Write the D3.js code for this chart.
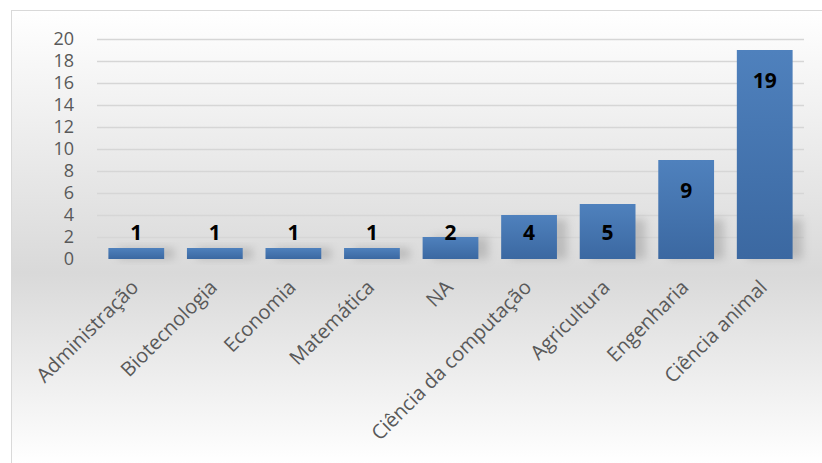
<!DOCTYPE html>
<html>
<head>
<meta charset="utf-8">
<script src="https://cdn.jsdelivr.net/npm/d3@7"></script>
<style>
  html, body { margin: 0; padding: 0; background: #ffffff; }
  svg { display: block; }
</style>
</head>
<body>
<svg id="chart" width="822" height="463"></svg>
<script>
const categories = ["Administração", "Biotecnologia", "Economia", "Matemática", "NA", "Ciência da computação", "Agricultura", "Engenharia", "Ciência animal"];
const values = [1, 1, 1, 1, 2, 4, 5, 9, 19];
const yTicks = [0, 2, 4, 6, 8, 10, 12, 14, 16, 18, 20];

const W = 822, H = 463;
const svg = d3.select("#chart");
const defs = svg.append("defs");

const bg = defs.append("linearGradient").attr("id", "bg").attr("x1", 0).attr("y1", 0).attr("x2", 0).attr("y2", 1);
bg.append("stop").attr("offset", "0").attr("stop-color", "#ffffff");
bg.append("stop").attr("offset", "0.58").attr("stop-color", "#d9d9d9");
bg.append("stop").attr("offset", "1").attr("stop-color", "#ffffff");

const barGrad = defs.append("linearGradient").attr("id", "barGrad").attr("x1", 0).attr("y1", 0).attr("x2", 0).attr("y2", 1);
barGrad.append("stop").attr("offset", "0").attr("stop-color", "#4f81bd");
barGrad.append("stop").attr("offset", "1").attr("stop-color", "#3b68a1");

const blur = defs.append("filter").attr("id", "blur").attr("x", "-50%").attr("y", "-50%").attr("width", "200%").attr("height", "200%");
blur.append("feGaussianBlur").attr("stdDeviation", 4);

svg.append("rect").attr("x", 11.5).attr("y", 10.5).attr("width", W - 11).attr("height", H - 10)
  .attr("fill", "url(#bg)").attr("stroke", "#d9d9d9").attr("stroke-width", 1);

const margin = { left: 97, right: 18, top: 39, bottom: 205 };
const x = d3.scaleBand().domain(categories).range([margin.left, W - margin.right]).paddingInner(0.29).paddingOuter(0.145);
const y = d3.scaleLinear().domain([0, 20]).range([H - margin.bottom + 1, margin.top]);

// gridlines
const yAxis = d3.axisLeft(y).tickValues(yTicks).tickSize(-(W - margin.right - margin.left)).tickPadding(23);
const gy = svg.append("g").attr("transform", `translate(${margin.left},0)`).call(yAxis);
gy.select(".domain").remove();
gy.selectAll(".tick line").attr("stroke", "#d6d6d6").attr("stroke-width", 1.5)
  .attr("opacity", d => d === 0 ? 0 : 1);
gy.selectAll(".tick text").attr("fill", "#595959").attr("font-family", "'Open Sans', sans-serif").attr("font-size", 18);

// bar shadows
svg.append("g").selectAll("rect").data(values).join("rect")
  .attr("x", (d, i) => x(categories[i]) + 10)
  .attr("y", d => Math.max(y(d), y(0) - 40))
  .attr("width", x.bandwidth())
  .attr("height", d => y(0) - Math.max(y(d), y(0) - 40))
  .attr("fill", "#8a8a8a").attr("opacity", 0.4).attr("filter", "url(#blur)");

// bars
svg.append("g").selectAll("rect").data(values).join("rect")
  .attr("x", (d, i) => x(categories[i]))
  .attr("y", d => y(d))
  .attr("width", x.bandwidth())
  .attr("height", d => y(0) - y(d))
  .attr("fill", "url(#barGrad)");

// value labels
svg.append("g").selectAll("text").data(values).join("text")
  .attr("x", (d, i) => x(categories[i]) + x.bandwidth() / 2)
  .attr("y", d => Math.min(y(d) + 30, y(0) - 27))
  .attr("dy", "0.36em")
  .attr("text-anchor", "middle")
  .attr("font-family", "'Open Sans', sans-serif").attr("font-weight", "bold").attr("font-size", 21)
  .attr("fill", "#000000")
  .text(d => d);

// category labels
const xAxis = d3.axisBottom(x).tickSize(0).tickPadding(0);
const gx = svg.append("g").attr("transform", `translate(0,${y(0)})`).call(xAxis);
gx.select(".domain").remove();
gx.selectAll(".tick text")
  .attr("fill", "#595959").attr("font-family", "'Open Sans', sans-serif").attr("font-size", 20)
  .attr("text-anchor", "end")
  .attr("dy", "0.75em")
  .attr("transform", "translate(-7,19) rotate(-45)");
</script>
</body>
</html>
